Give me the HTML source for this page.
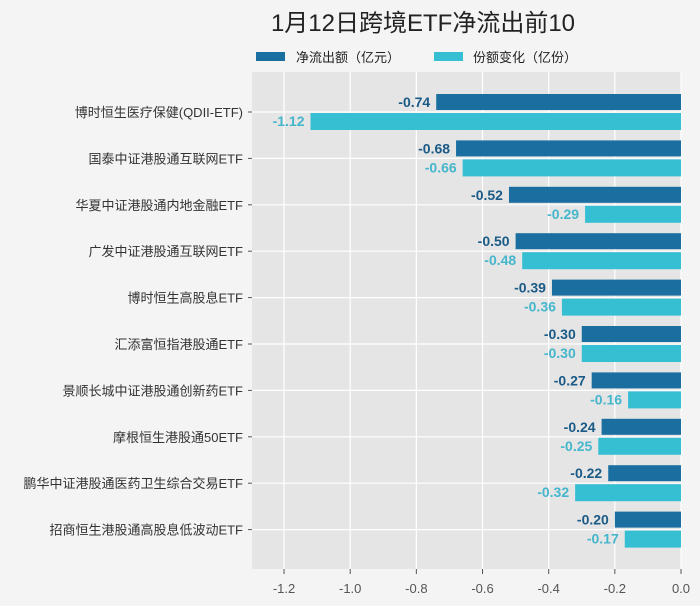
<!DOCTYPE html>
<html><head><meta charset="utf-8"><style>
html,body{margin:0;padding:0;background:#f4f4f4;overflow:hidden;width:700px;height:606px;}
svg{display:block;}
svg text{font-family:"Liberation Sans","Noto Sans CJK SC",sans-serif;}
</style></head><body>
<svg width="700" height="606" xmlns="http://www.w3.org/2000/svg">
<rect width="700" height="606" fill="#f4f4f4"/>
<text x="423" y="31" font-size="24" text-anchor="middle" fill="#222">1月12日跨境ETF净流出前10</text>
<rect x="256" y="52" width="29" height="9" fill="#1a6fa0"/>
<text x="296" y="62" font-size="13" fill="#222">净流出额（亿元）</text>
<rect x="434" y="52" width="29" height="9" fill="#36bfd3"/>
<text x="473" y="62" font-size="13" fill="#222">份额变化（亿份）</text>
<rect x="252" y="72" width="429" height="497" fill="#e5e5e5"/>
</svg>
<script>
var names=["博时恒生医疗保健(QDII-ETF)","国泰中证港股通互联网ETF","华夏中证港股通内地金融ETF","广发中证港股通互联网ETF","博时恒生高股息ETF","汇添富恒指港股通ETF","景顺长城中证港股通创新药ETF","摩根恒生港股通50ETF","鹏华中证港股通医药卫生综合交易ETF","招商恒生港股通高股息低波动ETF"];
var a=[-0.74,-0.68,-0.52,-0.50,-0.39,-0.30,-0.27,-0.24,-0.22,-0.20];
var b=[-1.12,-0.66,-0.29,-0.48,-0.36,-0.30,-0.16,-0.25,-0.32,-0.17];
var NS="http://www.w3.org/2000/svg",svg=document.querySelector("svg");
function el(t,at,txt){var e=document.createElementNS(NS,t);for(var k in at)e.setAttribute(k,at[k]);if(txt!=null)e.textContent=txt;svg.appendChild(e);return e;}
var X0=681,S=330.8;
for(var i=0;i<10;i++){var c=112+i*46.4;
el("line",{x1:252,x2:681,y1:c,y2:c,stroke:"#fff","stroke-width":1.2});
el("line",{x1:248,x2:252,y1:c,y2:c,stroke:"#555"});}
var ticks=["-1.2","-1.0","-0.8","-0.6","-0.4","-0.2","0.0"];
for(var j=0;j<7;j++){var x=X0-(6-j)*0.2*S;
el("line",{x1:x,x2:x,y1:72,y2:569,stroke:"#fff","stroke-width":1.2});
el("line",{x1:x,x2:x,y1:569,y2:574,stroke:"#555"});
el("text",{x:x,y:593,"font-size":13,"text-anchor":"middle",fill:"#555"},ticks[j]);}
for(var i=0;i<10;i++){var c=112+i*46.4;
var wa=-a[i]*S,wb=-b[i]*S;
el("rect",{x:X0-wa,y:c-18,width:wa,height:16,fill:"#1a6fa0"});
el("rect",{x:X0-wb,y:c+1,width:wb,height:17,fill:"#36bfd3"});
el("text",{x:X0-wa-6,y:c-5,"font-size":14,"font-weight":"bold","text-anchor":"end",fill:"#1a5a86"},a[i].toFixed(2));
el("text",{x:X0-wb-6,y:c+14,"font-size":14,"font-weight":"bold","text-anchor":"end",fill:"#45b6cc"},b[i].toFixed(2));
el("text",{x:243,y:c+5,"font-size":13,"text-anchor":"end",fill:"#333"},names[i]);}
</script>
</body></html>
